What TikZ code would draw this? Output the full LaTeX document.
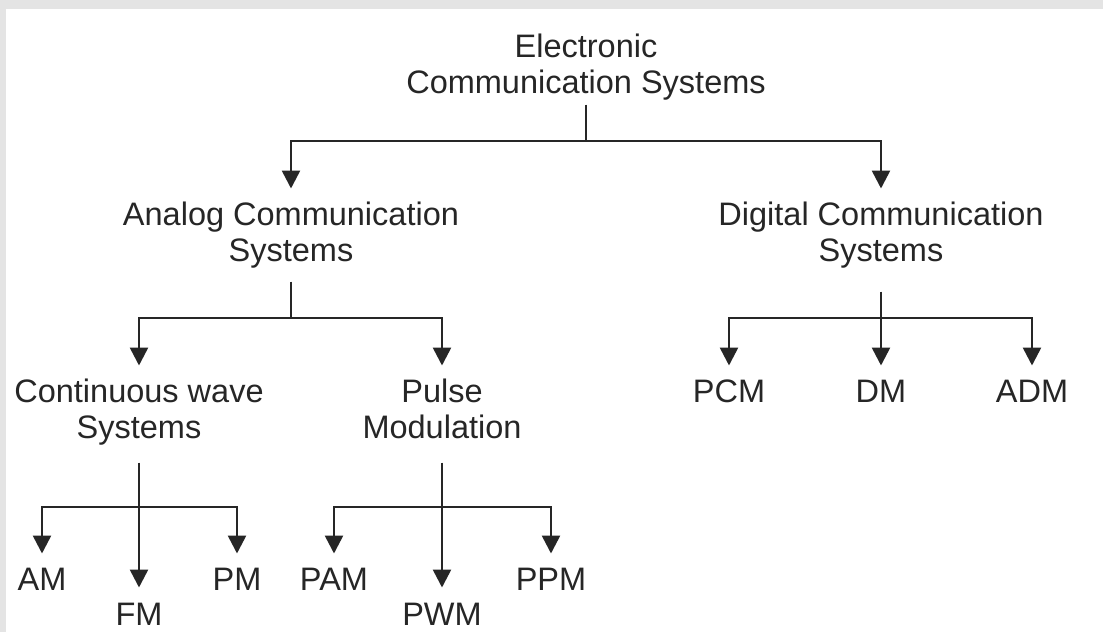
\documentclass[tikz,border=0pt]{standalone}
\usepackage{fontspec}
\setmainfont{Liberation Sans}
\usetikzlibrary{arrows.meta}
\definecolor{framegray}{HTML}{E4E4E4}
\definecolor{ink}{HTML}{262626}
\newcommand{\twoline}[2]{\begin{tabular}[t]{@{}c@{}}#1\\#2\end{tabular}}
\begin{document}
\begin{tikzpicture}[x=1pt,y=-1pt,
  lbl/.style={font=\fontsize{32.5}{36.5}\selectfont, text=ink, inner sep=0pt, anchor=base},
  conn/.style={draw=ink, line width=2.6pt},
  arr/.style={conn, -{Triangle[width=18pt,length=18pt]}}]
\useasboundingbox (0,0) rectangle (1103,632);
\fill[white] (0,0) rectangle (1103,632);
\fill[framegray] (0,0) rectangle (1103,9);
\fill[framegray] (0,0) rectangle (6,632);

% nodes
\node[lbl] (root)    at (586,57)  {\twoline{Electronic}{Communication Systems}};
\node[lbl] (analog)  at (291,225) {\twoline{Analog Communication}{Systems}};
\node[lbl] (digital) at (881,225) {\twoline{Digital Communication}{Systems}};
\node[lbl] (cw)      at (139,402) {\twoline{Continuous wave}{Systems}};
\node[lbl] (pulse)   at (442,402) {\twoline{Pulse}{Modulation}};
\node[lbl] (pcm)     at (729,402) {PCM};
\node[lbl] (dm)      at (881,402) {DM};
\node[lbl] (adm)     at (1032,402) {ADM};
\node[lbl] (am)      at (42,590)  {AM};
\node[lbl] (pm)      at (237,590) {PM};
\node[lbl] (fm)      at (139,625) {FM};
\node[lbl] (pam)     at (334,590) {PAM};
\node[lbl] (ppm)     at (551,590) {PPM};
\node[lbl] (pwm)     at (442,625) {PWM};

% junctions
\coordinate (j0) at (586,141);
\coordinate (ja) at (291,318);
\coordinate (jd) at (881,318);
\coordinate (jc) at (139,507);
\coordinate (jp) at (442,507);

% connectors
\draw[conn] (root.south) -- (j0);
\draw[arr] (j0) -| ([yshift=36.5pt]analog.base);
\draw[arr] (j0) -| ([yshift=36.5pt]digital.base);

\draw[conn, shorten <=9pt] (analog.south) -- (ja);
\draw[arr] (ja) -| ([yshift=36.5pt]cw.base);
\draw[arr] (ja) -| ([yshift=36.5pt]pulse.base);

\draw[arr, shorten <=19pt] (digital.south) -- ([yshift=36.5pt]dm.base);
\draw[arr] (jd) -| ([yshift=36.5pt]pcm.base);
\draw[arr] (jd) -| ([yshift=36.5pt]adm.base);

\draw[arr, shorten <=13pt] (cw.south) -- ([yshift=37.5pt]fm.base);
\draw[arr] (jc) -| ([yshift=36.5pt]am.base);
\draw[arr] (jc) -| ([yshift=36.5pt]pm.base);

\draw[arr, shorten <=13pt] (pulse.south) -- ([yshift=37.5pt]pwm.base);
\draw[arr] (jp) -| ([yshift=36.5pt]pam.base);
\draw[arr] (jp) -| ([yshift=36.5pt]ppm.base);
\end{tikzpicture}
\end{document}
